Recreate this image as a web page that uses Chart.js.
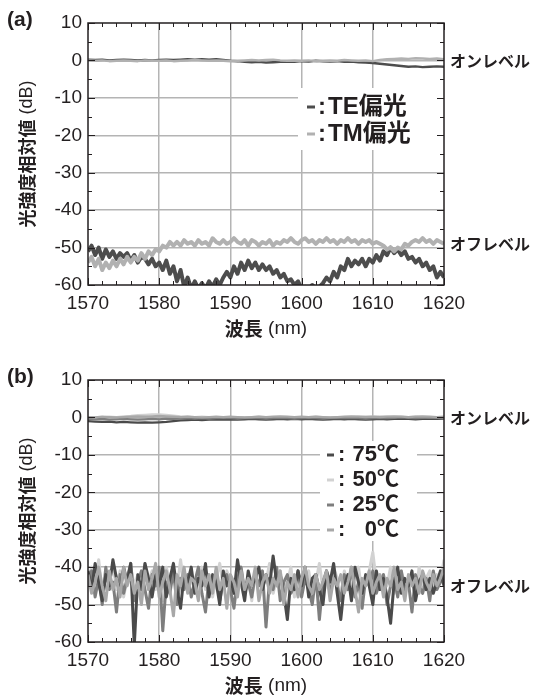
<!DOCTYPE html>
<html>
<head>
<meta charset="utf-8">
<script src="https://cdn.jsdelivr.net/npm/chart.js"></script>
<style>
  html, body { margin: 0; padding: 0; background: #fff; }
  body { width: 533px; height: 695px; position: relative; overflow: hidden; }
  canvas { position: absolute; left: 0; }
  #chartA { top: 0; }
  #chartB { top: 357px; }
</style>
</head>
<body>
<canvas id="chartA" width="533" height="347"></canvas>
<canvas id="chartB" width="533" height="338"></canvas>
<script>
// wavelength grids (nm)
var WL_ON = [];
for (var w = 1570; w <= 1620; w += 1) WL_ON.push(w);
var WL_OFF = [];
for (var k = 0; k <= 100; k++) WL_OFF.push(1570 + k * 0.5);

var X_TICKS = [1570, 1580, 1590, 1600, 1610, 1620];
var Y_TICKS = [10, 0, -10, -20, -30, -40, -50, -60];

// (a) polarisation, on level (dB)
var TE_ON = [0.2,0.1,0.2,0.0,0.1,0.2,0.1,0.0,0.1,0.0, 0.1,0.2,0.1,0.2,0.3,0.2,0.3,0.2,0.3,0.1,
  -0.1,-0.2,-0.4,-0.5,-0.4,-0.6,-0.5,-0.4,-0.3,-0.4, -0.2,-0.3,-0.1,-0.2,-0.3,-0.2,-0.4,-0.3,-0.5,-0.6,
  -0.7,-0.9,-1.1,-1.3,-1.5,-1.7,-1.6,-1.8,-1.7,-1.6,-1.7];
var TM_ON = [0.0,-0.1,0.0,-0.2,-0.1,0.0,-0.1,-0.2,0.0,-0.1, -0.1,0.0,-0.2,-0.1,0.0,0.1,0.0,-0.1,0.0,-0.1,
  -0.2,-0.1,0.0,0.1,0.0,0.1,0.2,0.0,-0.1,0.0, -0.1,0.0,-0.2,-0.1,0.0,-0.1,0.1,0.0,-0.1,0.0,
  -0.2,0.1,0.3,0.4,0.5,0.4,0.6,0.5,0.4,0.5,0.3];

// (a) polarisation, off level (dB)
var TE_OFF = [-51,-49.5,-52,-50,-53,-50.5,-52.5,-51,-53,-51.5,
  -52.5,-51.5,-53.5,-52,-54,-52.5,-53,-54.5,-53,-55,
  -54,-56,-53.5,-57,-55,-59,-56,-60.5,-58,-61,
  -59,-61,-59.5,-61,-59,-60.5,-58.5,-60,-58,-56.5,
  -58,-55,-57,-54,-56,-53.5,-55.5,-54,-56,-54.5,
  -56,-55,-57,-56,-58,-57,-59,-58.5,-60,-59,
  -61,-60.5,-61,-60,-61,-60.5,-59.5,-58,-59,-56.5,
  -58,-55,-56,-53,-55,-53.5,-54.5,-53,-55,-53,
  -54,-52,-53.5,-51,-52,-50,-51.5,-50.5,-52,-51,
  -53,-52.5,-54,-53,-55,-54,-56,-55,-58,-56.5,-58];
var TM_OFF = [-54,-52.5,-55,-53,-56,-54,-55.5,-53.5,-55,-53,
  -54.5,-52.5,-54,-52.5,-53.5,-51.5,-53,-51,-52,-50.5,
  -51,-49.5,-50,-48.5,-49.5,-48.5,-49.5,-48,-49,-48.5,
  -49.5,-48,-49,-48.5,-49.5,-47.5,-48.5,-49,-48,-49,
  -48.5,-47.5,-48.5,-49,-48,-49.5,-48,-48.5,-49.5,-48.5,
  -49,-48,-49.5,-48.5,-49,-48,-48.5,-47.5,-48.5,-49,
  -48,-47.5,-48.5,-48,-49,-48,-48.5,-47.5,-48.5,-48,
  -49,-48,-48.5,-47.5,-48.5,-48,-49,-48,-48.5,-48,
  -49,-48.5,-49,-49.5,-50.5,-50,-51,-50,-50.5,-49,
  -49.5,-48.5,-48,-48.5,-47.5,-48.5,-48,-49,-48,-48.5,-49];

// (b) temperature, on level (dB)
var T75_ON = [-1.0,-1.1,-1.2,-1.1,-1.3,-1.2,-1.3,-1.4,-1.3,-1.4, -1.3,-1.2,-1.0,-0.8,-0.7,-0.6,-0.7,-0.6,-0.5,-0.6,
  -0.5,-0.6,-0.5,-0.4,-0.5,-0.6,-0.5,-0.4,-0.5,-0.4, -0.5,-0.4,-0.5,-0.6,-0.5,-0.4,-0.5,-0.4,-0.5,-0.6,
  -0.5,-0.4,-0.5,-0.4,-0.3,-0.4,-0.5,-0.4,-0.3,-0.4,-0.3];
var T50_ON = [0.0,0.1,0.0,0.2,0.1,0.3,0.4,0.6,0.7,0.8, 0.8,0.7,0.5,0.3,0.2,0.1,0.2,0.1,0.0,0.1,
  0.0,0.1,0.0,0.1,0.2,0.1,0.0,0.1,0.0,0.1, 0.0,0.1,0.2,0.1,0.0,0.1,0.0,0.1,0.2,0.3,
  0.2,0.3,0.2,0.1,0.2,0.1,0.2,0.1,0.0,0.1,0.0];
var T25_ON = [-0.4,-0.5,-0.4,-0.6,-0.5,-0.4,-0.5,-0.6,-0.5,-0.4, -0.5,-0.3,-0.4,-0.3,-0.2,-0.3,-0.2,-0.3,-0.2,-0.1,
  -0.2,-0.3,-0.2,-0.1,-0.2,-0.3,-0.2,-0.1,-0.2,-0.3, -0.2,-0.1,-0.2,-0.3,-0.2,-0.1,-0.2,-0.1,-0.2,-0.3,
  -0.2,-0.1,-0.2,-0.1,0.0,-0.1,-0.2,-0.1,0.0,-0.1,0.0];
var T0_ON = [0.1,0.0,0.2,0.1,0.0,0.1,0.2,0.3,0.2,0.3, 0.4,0.3,0.2,0.1,0.2,0.1,0.0,0.1,0.2,0.1,
  0.2,0.1,0.0,0.1,0.2,0.1,0.2,0.3,0.2,0.1, 0.2,0.1,0.2,0.1,0.0,0.1,0.2,0.3,0.2,0.1,
  0.2,0.1,0.2,0.3,0.2,0.1,0.2,0.3,0.2,0.1,0.2];

// (b) temperature, off level (dB)
var T75_OFF = [-41,-46,-39,-44,-49,-42,-45,-38,-43,-47, -40,-44,-39,-61,-42,-46,-39,-43,-48,-42,
  -45,-40,-48,-43,-39,-46,-51,-42,-44,-40, -47,-43,-45,-39,-48,-42,-44,-50,-41,-45,
  -43,-47,-38,-44,-49,-41,-45,-43,-40,-46, -42,-45,-37,-44,-42,-47,-54,-43,-46,-41,
  -45,-40,-48,-43,-42,-46,-50,-41,-44,-39, -47,-54,-45,-42,-49,-40,-44,-47,-42,-45,
  -50,-41,-46,-43,-48,-55,-44,-40,-47,-43, -45,-41,-49,-44,-42,-46,-43,-47,-44,-41,-45];
var T50_OFF = [-43,-40,-45,-38,-47,-42,-44,-39,-46,-41, -48,-43,-40,-45,-42,-47,-39,-44,-41,-46,
  -43,-49,-40,-44,-42,-46,-38,-45,-43,-41, -47,-44,-40,-46,-42,-48,-43,-39,-45,-41,
  -44,-47,-42,-40,-46,-43,-49,-41,-45,-42, -44,-39,-47,-43,-41,-46,-44,-40,-48,-42,
  -45,-43,-41,-47,-44,-39,-46,-42,-45,-40, -43,-48,-41,-45,-42,-44,-40,-47,-43,-41,
  -36,-44,-46,-42,-45,-40,-47,-43,-41,-46, -44,-42,-48,-40,-45,-43,-41,-46,-42,-44,-38];
var T25_OFF = [-45,-41,-48,-43,-50,-40,-46,-44,-52,-42, -47,-43,-39,-49,-44,-41,-46,-51,-42,-45,
  -40,-57,-44,-47,-41,-50,-43,-46,-42,-48, -44,-40,-47,-52,-43,-45,-41,-49,-44,-42,
  -46,-51,-43,-40,-47,-44,-48,-42,-45,-41, -56,-43,-46,-40,-49,-44,-42,-47,-45,-41,
  -48,-43,-46,-50,-42,-54,-44,-41,-47,-43, -45,-49,-42,-46,-40,-48,-44,-51,-43,-45,
  -41,-47,-44,-42,-50,-45,-43,-48,-41,-46, -44,-52,-42,-45,-47,-43,-49,-41,-46,-44,-42];
var T0_OFF = [-42,-47,-44,-40,-45,-49,-41,-46,-43,-48, -40,-45,-42,-47,-44,-50,-41,-46,-43,-39,
  -48,-44,-41,-46,-53,-42,-45,-40,-47,-43, -44,-49,-41,-45,-42,-47,-40,-46,-43,-51,
  -42,-44,-48,-41,-46,-43,-45,-40,-49,-44, -42,-47,-43,-45,-41,-50,-44,-46,-42,-48,
  -43,-40,-45,-47,-42,-46,-44,-41,-49,-43, -45,-42,-47,-44,-40,-46,-52,-43,-45,-41,
  -47,-44,-42,-48,-43,-45,-40,-46,-44,-49, -42,-45,-43,-47,-41,-44,-46,-42,-45,-43,-40];

var INK = '#231f20';
var C_TE = '#4d4d4d', C_TM = '#b1b1b1';
var C_75 = '#4a4a4a', C_50 = '#d2d2d2', C_25 = '#7e7e7e', C_0 = '#a8a8a8';
var NUM_FONT = '"Liberation Sans", Arial, sans-serif';
var JP_FONT = '"Liberation Sans", "Noto Sans CJK JP", sans-serif';

function pts(xs, ys) {
  return ys.map(function (y, i) { return { x: xs[i], y: y }; });
}

function line(xs, ys, color, width) {
  return {
    data: pts(xs, ys), borderColor: color, borderWidth: width,
    pointRadius: 0, tension: 0, borderJoinStyle: 'round', fill: false
  };
}

function gridColor(ctx) {
  var s = ctx.scale;
  if (ctx.tick.value === s.min || ctx.tick.value === s.max) return 'rgba(0,0,0,0)';
  return '#b4b4b4';
}

// frame, inward ticks, panel label, side labels, inline legend
function decor(spec) {
  return {
    id: 'decor',
    beforeDatasetsDraw: function (chart) {
      var ctx = chart.ctx, b = spec.box;
      ctx.save();
      ctx.fillStyle = '#fff';
      ctx.fillRect(b[0], b[1], b[2], b[3]);
      ctx.restore();
    },
    afterDatasetsDraw: function (chart) {
      var ctx = chart.ctx, a = chart.chartArea;
      var xs = chart.scales.x, ys = chart.scales.y;
      ctx.save();
      // legend items over the data
      spec.items.forEach(function (it) {
        ctx.strokeStyle = it.color;
        ctx.lineWidth = 3;
        ctx.beginPath();
        ctx.moveTo(spec.dash[0], it.y);
        ctx.lineTo(spec.dash[1], it.y);
        ctx.stroke();
        ctx.fillStyle = INK;
        ctx.textBaseline = 'middle';
        ctx.font = 'bold ' + spec.legendSize + 'px ' + JP_FONT;
        ctx.textAlign = 'left';
        ctx.fillText(':', spec.colonX, it.y);
        ctx.textAlign = spec.textAlign;
        ctx.fillText(it.text, spec.textX, it.y);
      });

      // frame
      ctx.strokeStyle = INK;
      ctx.lineWidth = 1.5;
      ctx.strokeRect(a.left, a.top, a.right - a.left, a.bottom - a.top);
      // inward ticks
      ctx.lineWidth = 1;
      ctx.beginPath();
      for (var v = 1570; v <= 1620; v += 2) {
        var px = Math.round(xs.getPixelForValue(v)) + 0.5;
        var len = (v % 10 === 0) ? 7 : 4;
        ctx.moveTo(px, a.bottom); ctx.lineTo(px, a.bottom - len);
        ctx.moveTo(px, a.top); ctx.lineTo(px, a.top + len);
      }
      for (var u = -60; u <= 10; u += 5) {
        var py = Math.round(ys.getPixelForValue(u)) + 0.5;
        var l2 = (u % 10 === 0) ? 7 : 4;
        ctx.moveTo(a.left, py); ctx.lineTo(a.left + l2, py);
        ctx.moveTo(a.right, py); ctx.lineTo(a.right - l2, py);
      }
      ctx.stroke();

      // panel label
      ctx.fillStyle = INK;
      ctx.textAlign = 'left';
      ctx.textBaseline = 'middle';
      ctx.font = 'bold 21px ' + NUM_FONT;
      ctx.fillText(spec.panel, 7, 20);

      // on / off level labels
      ctx.font = 'bold 16px "Noto Sans CJK JP", sans-serif';
      ctx.fillText('オンレベル', a.right + 6, ys.getPixelForValue(spec.onAt));
      ctx.fillText('オフレベル', a.right + 6, ys.getPixelForValue(spec.offAt));

      // x title: bold kanji + regular unit
      var cx = (a.left + a.right) / 2, ty = a.bottom + 44;
      ctx.font = 'bold 19px "Noto Sans CJK JP", sans-serif';
      var w1 = ctx.measureText('波長').width;
      ctx.font = '19px ' + NUM_FONT;
      var w2 = ctx.measureText(' (nm)').width;
      var x0 = cx - (w1 + w2) / 2;
      ctx.font = 'bold 19px "Noto Sans CJK JP", sans-serif';
      ctx.fillText('波長', x0, ty);
      ctx.font = '19px ' + NUM_FONT;
      ctx.fillText(' (nm)', x0 + w1, ty);

      // y title, rotated
      ctx.translate(27, (a.top + a.bottom) / 2);
      ctx.rotate(-Math.PI / 2);
      ctx.font = 'bold 18px "Noto Sans CJK JP", sans-serif';
      var h1 = ctx.measureText('光強度相対値').width;
      ctx.font = '18px ' + NUM_FONT;
      var h2 = ctx.measureText(' (dB)').width;
      var y0 = -(h1 + h2) / 2;
      ctx.font = 'bold 18px "Noto Sans CJK JP", sans-serif';
      ctx.fillText('光強度相対値', y0, 0);
      ctx.font = '18px ' + NUM_FONT;
      ctx.fillText(' (dB)', y0 + h1, 0);
      ctx.restore();
    }
  };
}

function makeChart(id, datasets, xAxisHeight, spec) {
  var tickFont = { family: NUM_FONT, size: 19 };
  return new Chart(document.getElementById(id), {
    type: 'line',
    data: { datasets: datasets },
    options: {
      responsive: false,
      animation: false,
      devicePixelRatio: 1,
      layout: { padding: { left: 0, right: 89, top: 23, bottom: 0 } },
      plugins: { legend: { display: false }, tooltip: { enabled: false } },
      scales: {
        x: {
          type: 'linear', min: X_TICKS[0], max: X_TICKS[X_TICKS.length - 1],
          afterBuildTicks: function (s) { s.ticks = X_TICKS.map(function (v) { return { value: v }; }); },
          ticks: { padding: 7, color: INK, font: tickFont, maxRotation: 0, callback: function (v) { return String(v); } },
          grid: { color: gridColor, lineWidth: 1.5, drawTicks: false },
          border: { display: false },
          afterFit: function (s) { s.height = xAxisHeight; }
        },
        y: {
          type: 'linear', min: Y_TICKS[Y_TICKS.length - 1], max: Y_TICKS[0],
          afterBuildTicks: function (s) { s.ticks = Y_TICKS.map(function (v) { return { value: v }; }); },
          ticks: { padding: 6, color: INK, font: tickFont, callback: function (v) { return String(v); } },
          grid: { color: gridColor, lineWidth: 1.5, drawTicks: false },
          border: { display: false },
          afterFit: function (s) { s.width = 88; }
        }
      }
    },
    plugins: [decor(spec)]
  });
}

makeChart('chartA', [
  line(WL_OFF, TM_OFF, C_TM, 4),
  line(WL_OFF, TE_OFF, C_TE, 4),
  line(WL_ON, TM_ON, C_TM, 2.4),
  line(WL_ON, TE_ON, C_TE, 2.4)
], 62, {
  panel: '(a)', onAt: 0, offAt: -49,
  box: [298, 88, 146, 62],
  dash: [307, 315], colonX: 318, textX: 328, textAlign: 'left', legendSize: 24,
  items: [
    { text: 'TE偏光', color: C_TE, y: 107 },
    { text: 'TM偏光', color: C_TM, y: 134 }
  ]
});

makeChart('chartB', [
  line(WL_OFF, T0_OFF, C_0, 3),
  line(WL_OFF, T75_OFF, C_75, 3),
  line(WL_OFF, T25_OFF, C_25, 3),
  line(WL_OFF, T50_OFF, C_50, 3),
  line(WL_ON, T0_ON, C_0, 2.2),
  line(WL_ON, T25_ON, C_25, 2.2),
  line(WL_ON, T50_ON, C_50, 2.2),
  line(WL_ON, T75_ON, C_75, 2.2)
], 53, {
  panel: '(b)', onAt: 0, offAt: -45,
  box: [320, 84, 97, 100],
  dash: [327, 334], colonX: 338, textX: 399, textAlign: 'right', legendSize: 22,
  items: [
    { text: '75℃', color: C_75, y: 98 },
    { text: '50℃', color: C_50, y: 123 },
    { text: '25℃', color: C_25, y: 148 },
    { text: '0℃', color: C_0, y: 173 }
  ]
});
</script>
</body>
</html>
